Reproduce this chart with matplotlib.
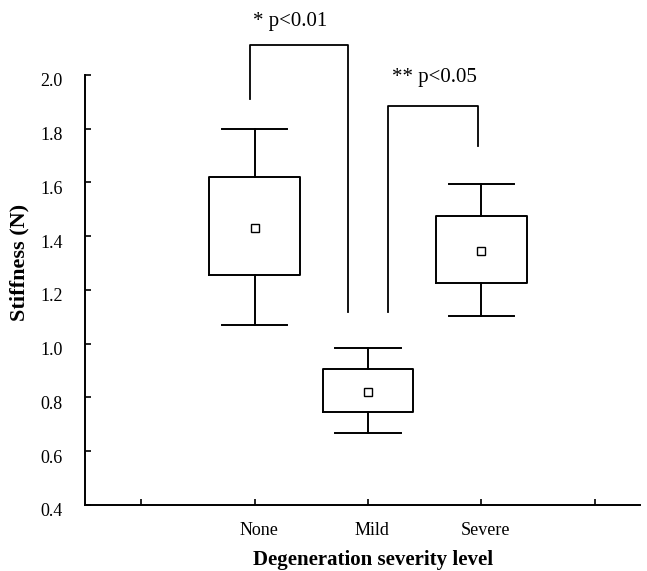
import matplotlib
matplotlib.use("Agg")
import matplotlib.pyplot as plt
import matplotlib.transforms as mtransforms

### Box summary values
categories = ['None', 'Mild', 'Severe']
positions = [2, 3, 4]
whisker_low = [1.07, 0.668, 1.103]
box_low = [1.254, 0.745, 1.226]
means = [1.43, 0.822, 1.345]
box_high = [1.62, 0.905, 1.476]
whisker_high = [1.80, 0.985, 1.595]

### Significance brackets: (x left, x right), (y left end, y top, y right end), label
bracket_x = [(1.956, 2.82), (3.18, 3.97)]
bracket_y = [(1.912, 2.11, 1.119), (1.119, 1.883, 1.736)]
bracket_labels = ['* p<0.01', '** p<0.05']
label_x = [2.31, 3.59]
label_y = [2.20, 1.99]

plt.rcParams['font.family'] = 'Liberation Serif'

fig = plt.figure(figsize=(6.47, 5.71), dpi=100)
ax = fig.add_axes([0.131, 0.1156, 0.858, 0.7531])

stats = []
for i in range(len(categories)):
    stats.append({'whislo': whisker_low[i], 'q1': box_low[i], 'med': means[i],
                  'q3': box_high[i], 'whishi': whisker_high[i], 'mean': means[i],
                  'fliers': []})

ax.bxp(stats, positions=positions, widths=0.8, capwidths=0.575,
       showmeans=True, showfliers=False,
       boxprops=dict(color='black', linewidth=1.4),
       whiskerprops=dict(color='black', linewidth=1.4),
       capprops=dict(color='black', linewidth=1.4),
       medianprops=dict(visible=False),
       meanprops=dict(marker='s', markerfacecolor='white', markeredgecolor='black',
                      markersize=6, markeredgewidth=1.0))

### brackets
for (x0, x1), (y0, ytop, y1), lab, lx, ly in zip(bracket_x, bracket_y, bracket_labels,
                                                  label_x, label_y):
    ax.plot([x0, x0, x1, x1], [y0, ytop, ytop, y1], color='black', linewidth=1.3,
            clip_on=False)
    ax.text(lx, ly, lab, ha='center', va='center', fontsize=15, clip_on=False)

ax.set_xlim(0.5, 5.4)
ax.set_ylim(0.4, 2.0)
ax.set_yticks([0.4 + 0.2 * k for k in range(9)])
ax.set_yticklabels(['%.1f' % (0.4 + 0.2 * k) for k in range(9)])
ax.set_xticks([1, 2, 3, 4, 5])
ax.set_xticklabels(['', 'None', 'Mild', 'Severe', ''])

ax.tick_params(axis='both', direction='in', length=4, width=1.2, labelsize=13)
ax.tick_params(axis='y', pad=16)
ax.tick_params(axis='x', pad=12)

# labels sit a little off their ticks in the original
xoff = mtransforms.ScaledTranslation(4 / 100, 0, fig.dpi_scale_trans)
for lab in ax.get_xticklabels():
    lab.set_transform(lab.get_transform() + xoff)
yoff = mtransforms.ScaledTranslation(0, -5 / 100, fig.dpi_scale_trans)
for lab in ax.get_yticklabels():
    lab.set_transform(lab.get_transform() + yoff)

for side in ['top', 'right']:
    ax.spines[side].set_visible(False)
for side in ['left', 'bottom']:
    ax.spines[side].set_linewidth(1.4)

ax.set_ylabel('Stiffness (N)', fontsize=16, fontweight='bold')
ax.yaxis.set_label_coords(-0.10, 0.563)
fig.text(373 / 647, 6 / 571, 'Degeneration severity level', ha='center', va='baseline',
         fontsize=15, fontweight='bold')

plt.savefig('out.png', dpi=100)
